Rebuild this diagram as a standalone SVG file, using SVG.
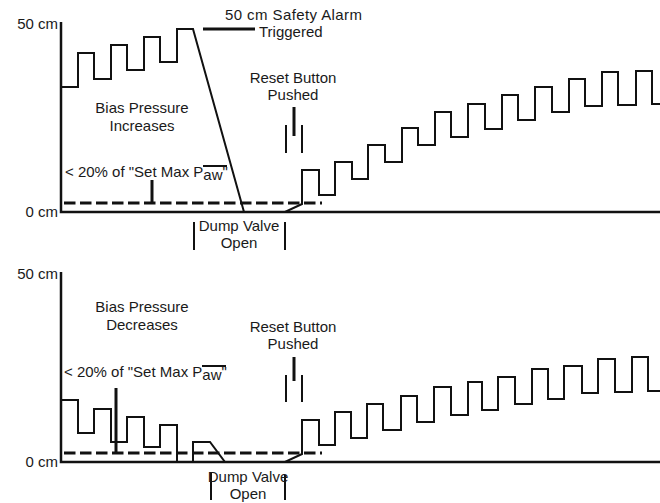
<svg xmlns="http://www.w3.org/2000/svg" width="660" height="503" viewBox="0 0 660 503">
<style>
  text { font-family: "Liberation Sans", Arial, sans-serif; font-size: 15px; fill: #1a1a1a; }
  .axis { fill: none; stroke: #111; stroke-width: 2.5; }
  .wave { fill: none; stroke: #111; stroke-width: 2; stroke-linejoin: miter; }
  .dash { fill: none; stroke: #111; stroke-width: 3; stroke-dasharray: 11.5 4.5; }
  .mark { fill: none; stroke: #111; stroke-width: 3; }
  .thin { fill: none; stroke: #111; stroke-width: 2; }
  .mid { text-anchor: middle; }
  .end { text-anchor: end; }
</style>
<rect width="660" height="503" fill="#fff"/>

<g id="top-chart">
  <g id="top-axes">
    <path class="axis" d="M61,22 V212 H660"/>
    <text class="end" x="58" y="29">50 cm</text>
    <text class="end" x="58" y="217">0 cm</text>
  </g>
  <g id="top-connectors">
    <path class="wave" d="M62,87 H78 V53 H94 V79 H111 V45 H127 V70 H144 V37 H160 V62 H177 V29 H193 L244,212 H285 L302,204 V170 H319 V195 H335 V162 H352 V179 H368 V145 H385 V162 H402 V128 H418 V145 H435 V112 H451 V137 H468 V104 H485 V129 H502 V95 H518 V120 H535 V87 H552 V112 H569 V79 H585 V106 H602 V72 H618 V105 H636 V71 H652 V104 H660"/>
    <path class="dash" d="M64,203 H322"/>
    <path class="mark" d="M152,180 V203"/>
    <path class="mark" d="M203,29 H255"/>
    <path class="mark" d="M294,107 V136"/>
    <path class="thin" d="M286,125 V153 M302,125 V153"/>
    <path class="thin" d="M194,222 V250 M285,222 V250"/>
  </g>
  <g id="top-alarm-label">
    <text x="225" y="20" textLength="137">50 cm Safety Alarm</text>
    <text x="259" y="37">Triggered</text>
  </g>
  <g id="top-bias-label">
    <text class="mid" x="142" y="113">Bias Pressure</text>
    <text class="mid" x="142" y="131">Increases</text>
  </g>
  <g id="top-reset-label">
    <text class="mid" x="293" y="83">Reset Button</text>
    <text class="mid" x="293" y="100">Pushed</text>
  </g>
  <g id="top-threshold-label">
    <text x="65" y="177">&lt; 20% of "Set Max P<tspan dy="3">aw</tspan><tspan dy="-3">"</tspan></text>
    <path class="thin" d="M203,166 H227" stroke-width="1.5"/>
  </g>
  <g id="top-dump-label">
    <text class="mid" x="239" y="231">Dump Valve</text>
    <text class="mid" x="239" y="248">Open</text>
  </g>
</g>

<g id="bottom-chart">
  <g id="bottom-axes">
    <path class="axis" d="M61,272 V462 H660"/>
    <text class="end" x="58" y="279">50 cm</text>
    <text class="end" x="58" y="467">0 cm</text>
  </g>
  <g id="bottom-connectors">
    <path class="wave" d="M62,400 H78 V433 H94 V409 H111 V442 H127 V417 H144 V447 H160 V425 H177 V462 H193 V442 H210 L225,462 H285 L302,454 V420 H319 V445 H335 V412 H351 V438 H367 V404 H383 V430 H401 V396 H417 V422 H434 V387 H451 V415 H468 V382 H482 V410 H498 V377 H515 V404 H532 V369 H548 V399 H564 V366 H582 V393 H598 V359 H615 V392 H632 V357 H648 V391 H660"/>
    <path class="dash" d="M64,453 H322"/>
    <path class="mark" d="M116,388 V453"/>
    <path class="mark" d="M294,357 V381"/>
    <path class="thin" d="M286,375 V402 M302,375 V402"/>
    <path class="thin" d="M211,473 V500 M285,475 V500"/>
  </g>
  <g id="bottom-bias-label">
    <text class="mid" x="142" y="312">Bias Pressure</text>
    <text class="mid" x="142" y="330">Decreases</text>
  </g>
  <g id="bottom-reset-label">
    <text class="mid" x="293" y="332">Reset Button</text>
    <text class="mid" x="293" y="349">Pushed</text>
  </g>
  <g id="bottom-threshold-label">
    <text x="64" y="377">&lt; 20% of "Set Max P<tspan dy="3">aw</tspan><tspan dy="-3">"</tspan></text>
    <path class="thin" d="M202,366 H226" stroke-width="1.5"/>
  </g>
  <g id="bottom-dump-label">
    <text class="mid" x="248" y="482">Dump Valve</text>
    <text class="mid" x="248" y="499">Open</text>
  </g>
</g>
</svg>
